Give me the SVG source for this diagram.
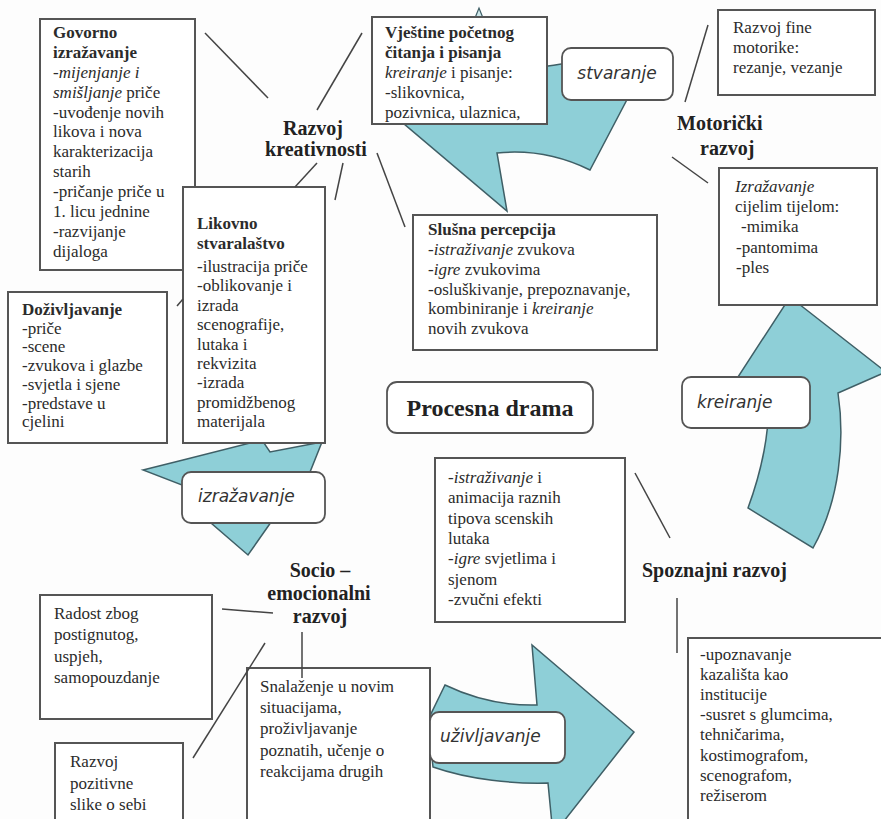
<svg xmlns="http://www.w3.org/2000/svg" width="881" height="819" viewBox="0 0 881 819">
<style>
.bg{fill:#fdfdfd}
.box{fill:#fff;stroke:#555;stroke-width:2}
.lbl{fill:#fff;stroke:#555;stroke-width:1.8}
.arr{fill:#8ecfd7;stroke:#3f5f66;stroke-width:1.5;stroke-linejoin:miter}
.txt{font-family:"Liberation Serif",serif;font-size:17px;fill:#2b2b2b}
.b{font-weight:bold}
.i{font-style:italic}
.c{font-family:"Liberation Serif",serif;font-weight:bold;font-size:20px;fill:#222}
.lt{font-family:"DejaVu Sans",sans-serif;font-style:italic;font-size:17px;fill:#333}
.conn line{stroke:#444;stroke-width:1.5}
</style>
<rect class="bg" x="0" y="0" width="881" height="819"/>

<g id="arrows">
<path id="arrow-stvaranje" class="arr" d="M403,123 C450,95 500,72 548,66 C590,60 625,56 652,52 L590,170 Q545,148 497,153 L507,211 Z"/>
<path id="arrow-kreiranje" class="arr" d="M748,508 C762,470 770,430 768,400 L736,380 L790,297 L886,372 L838,393 C845,440 840,500 813,548 Z"/>
<path id="arrow-izrazavanje" class="arr" d="M143,470 L183,460 L262,440 L270,452 L322,442 L310,472 L276,515 L248,555 L211,523 L190,488 Z"/>
<path id="arrow-uzivljavanje" class="arr" d="M445,685 C470,697 500,706 537,705 L532,645 L634,732 L553,835 L548,783 C515,784 470,780 433,767 L428,720 Z"/>
<path d="M475,18 L479,8 L483,18" fill="#cfe9ec" stroke="#3f5f66" stroke-width="1.2"/>
</g>

<g id="govorno">
<rect class="box" x="40" y="19" width="155" height="251"/>
<text class="txt" font-family="Liberation Serif, serif" x="53" y="38"><tspan class="b">Govorno</tspan><tspan class="b" x="53" dy="20">izražavanje</tspan><tspan class="i" x="53" dy="20">-mijenjanje i</tspan><tspan class="i" x="53" dy="19.5">smišljanje</tspan><tspan> priče</tspan><tspan x="53" dy="20">-uvođenje novih</tspan><tspan x="53" dy="19.5">likova i nova</tspan><tspan x="53" dy="20">karakterizacija</tspan><tspan x="53" dy="20">starih</tspan><tspan x="53" dy="20">-pričanje priče u</tspan><tspan x="53" dy="20">1. licu jednine</tspan><tspan x="53" dy="20">-razvijanje</tspan><tspan x="53" dy="20">dijaloga</tspan></text>
</g>

<g id="vjestine">
<rect class="box" x="372" y="17" width="175" height="107"/>
<text class="txt" font-family="Liberation Serif, serif" x="385" y="38"><tspan class="b">Vještine početnog</tspan><tspan class="b" x="385" dy="19.5">čitanja i pisanja</tspan><tspan class="i" x="385" dy="20">kreiranje</tspan><tspan> i pisanje:</tspan><tspan x="385" dy="20">-slikovnica,</tspan><tspan x="385" dy="20">pozivnica, ulaznica,</tspan></text>
</g>

<g id="lbl-stvaranje">
<rect class="lbl" x="562" y="48" width="111" height="52" rx="9"/>
<text class="lt" x="617" y="79" text-anchor="middle">stvaranje</text>
</g>

<g id="fine-motorike">
<rect class="box" x="718" y="10" width="157" height="85"/>
<text class="txt" font-family="Liberation Serif, serif" x="733" y="33"><tspan>Razvoj fine</tspan><tspan x="733" dy="20">motorike:</tspan><tspan x="733" dy="20">rezanje, vezanje</tspan></text>
</g>

<g id="motoricki">
<text class="c" x="677" y="130">Motorički</text>
<text class="c" x="700" y="155">razvoj</text>
</g>

<g id="kreativnost">
<text class="c" x="313" y="135" text-anchor="middle">Razvoj</text>
<text class="c" x="316" y="156" text-anchor="middle">kreativnosti</text>
</g>

<g id="izrazavanje-tijelom">
<rect class="box" x="719" y="168" width="158" height="137"/>
<text class="txt" font-family="Liberation Serif, serif" x="735" y="192"><tspan class="i">Izražavanje</tspan><tspan x="735" dy="20">cijelim tijelom:</tspan><tspan x="741" dy="20">-mimika</tspan><tspan x="736" dy="20.5">-pantomima</tspan><tspan x="736" dy="20.5">-ples</tspan></text>
</g>

<g id="slusna">
<rect class="box" x="413" y="215" width="244" height="135"/>
<text class="txt" font-family="Liberation Serif, serif" x="428" y="235"><tspan class="b">Slušna percepcija</tspan><tspan class="i" x="428" dy="20">-istraživanje</tspan><tspan> zvukova</tspan><tspan class="i" x="428" dy="19.5">-igre</tspan><tspan> zvukovima</tspan><tspan x="428" dy="20">-osluškivanje, prepoznavanje,</tspan><tspan x="428" dy="19.5">kombiniranje i </tspan><tspan class="i">kreiranje</tspan><tspan x="428" dy="20">novih zvukova</tspan></text>
</g>

<g id="likovno">
<rect class="box" x="183" y="187" width="142" height="256"/>
<text class="txt" font-family="Liberation Serif, serif" x="197" y="229"><tspan class="b">Likovno</tspan><tspan class="b" x="197" dy="20">stvaralaštvo</tspan><tspan x="197" dy="23">-ilustracija priče</tspan><tspan x="197" dy="19.4">-oblikovanje i</tspan><tspan x="197" dy="19.4">izrada</tspan><tspan x="197" dy="19.4">scenografije,</tspan><tspan x="197" dy="19.4">lutaka i</tspan><tspan x="197" dy="19.4">rekvizita</tspan><tspan x="197" dy="19.4">-izrada</tspan><tspan x="197" dy="19.4">promidžbenog</tspan><tspan x="197" dy="19.4">materijala</tspan></text>
</g>

<g id="dozivljavanje">
<rect class="box" x="8" y="292" width="159" height="151"/>
<text class="txt" font-family="Liberation Serif, serif" x="22" y="315"><tspan class="b">Doživljavanje</tspan><tspan x="22" dy="18.7">-priče</tspan><tspan x="22" dy="18.7">-scene</tspan><tspan x="22" dy="18.7">-zvukova i glazbe</tspan><tspan x="22" dy="18.7">-svjetla i sjene</tspan><tspan x="22" dy="18.7">-predstave u</tspan><tspan x="22" dy="18.7">cjelini</tspan></text>
</g>

<g id="lbl-izrazavanje">
<rect class="lbl" x="182" y="472" width="143" height="51" rx="9"/>
<text class="lt" x="198" y="502">izražavanje</text>
</g>

<g id="procesna-drama">
<rect class="lbl" x="387" y="382" width="206" height="51" rx="10"/>
<text class="c" x="490" y="416" text-anchor="middle" style="font-size:24px">Procesna drama</text>
</g>

<g id="lbl-kreiranje">
<rect class="lbl" x="682" y="377" width="128" height="51" rx="9"/>
<text class="lt" x="697" y="408">kreiranje</text>
</g>

<g id="istrazivanje">
<rect class="box" x="435" y="458" width="190" height="164"/>
<text class="txt" font-family="Liberation Serif, serif" x="448" y="483"><tspan class="i">-istraživanje</tspan><tspan> i</tspan><tspan x="448" dy="20.3">animacija raznih</tspan><tspan x="448" dy="20.3">tipova scenskih</tspan><tspan x="448" dy="20.3">lutaka</tspan><tspan class="i" x="448" dy="20.3">-igre</tspan><tspan> svjetlima i</tspan><tspan x="448" dy="20.3">sjenom</tspan><tspan x="448" dy="20.3">-zvučni efekti</tspan></text>
</g>

<g id="spoznajni">
<text class="c" x="642" y="577">Spoznajni razvoj</text>
</g>

<g id="socio">
<text class="c" x="320" y="577" text-anchor="middle">Socio –</text>
<text class="c" x="319" y="600" text-anchor="middle">emocionalni</text>
<text class="c" x="320" y="623" text-anchor="middle">razvoj</text>
</g>

<g id="upoznavanje">
<rect class="box" x="688" y="638" width="194" height="195"/>
<text class="txt" font-family="Liberation Serif, serif" x="700" y="660"><tspan>-upoznavanje</tspan><tspan x="700" dy="20.1">kazališta kao</tspan><tspan x="700" dy="20.1">institucije</tspan><tspan x="700" dy="20.1">-susret s glumcima,</tspan><tspan x="700" dy="20.1">tehničarima,</tspan><tspan x="700" dy="20.1">kostimografom,</tspan><tspan x="700" dy="20.1">scenografom,</tspan><tspan x="700" dy="20.1">režiserom</tspan></text>
</g>

<g id="radost">
<rect class="box" x="40" y="595" width="172" height="124"/>
<text class="txt" font-family="Liberation Serif, serif" x="54" y="619"><tspan>Radost zbog</tspan><tspan x="54" dy="21.3">postignutog,</tspan><tspan x="54" dy="21.3">uspjeh,</tspan><tspan x="54" dy="21.3">samopouzdanje</tspan></text>
</g>

<g id="pozitivna-slika">
<rect class="box" x="55" y="743" width="128" height="90"/>
<text class="txt" font-family="Liberation Serif, serif" x="70" y="767"><tspan>Razvoj</tspan><tspan x="70" dy="21.5">pozitivne</tspan><tspan x="70" dy="21.5">slike o sebi</tspan></text>
</g>

<g id="snalazenje">
<rect class="box" x="247" y="668" width="183" height="165"/>
<text class="txt" font-family="Liberation Serif, serif" x="260" y="692"><tspan>Snalaženje u novim</tspan><tspan x="260" dy="21.2">situacijama,</tspan><tspan x="260" dy="21.2">proživljavanje</tspan><tspan x="260" dy="21.2">poznatih, učenje o</tspan><tspan x="260" dy="21.2">reakcijama drugih</tspan></text>
</g>

<g id="lbl-uzivljavanje">
<rect class="lbl" x="430" y="712" width="135" height="51" rx="9"/>
<text class="lt" x="440" y="742">uživljavanje</text>
</g>

<g id="connectors" class="conn">
<line x1="205" y1="33" x2="268" y2="98"/>
<line x1="317" y1="110" x2="362" y2="33"/>
<line x1="317" y1="163" x2="295" y2="187"/>
<line x1="343" y1="163" x2="335" y2="200"/>
<line x1="377" y1="153" x2="405" y2="227"/>
<line x1="177" y1="306" x2="183" y2="299"/>
<line x1="685" y1="102" x2="708" y2="25"/>
<line x1="672" y1="157" x2="708" y2="183"/>
<line x1="635" y1="473" x2="670" y2="538"/>
<line x1="677" y1="598" x2="677" y2="653"/>
<line x1="222" y1="609" x2="273" y2="613"/>
<line x1="265" y1="643" x2="193" y2="758"/>
<line x1="302" y1="632" x2="302" y2="678"/>
</g>
</svg>
